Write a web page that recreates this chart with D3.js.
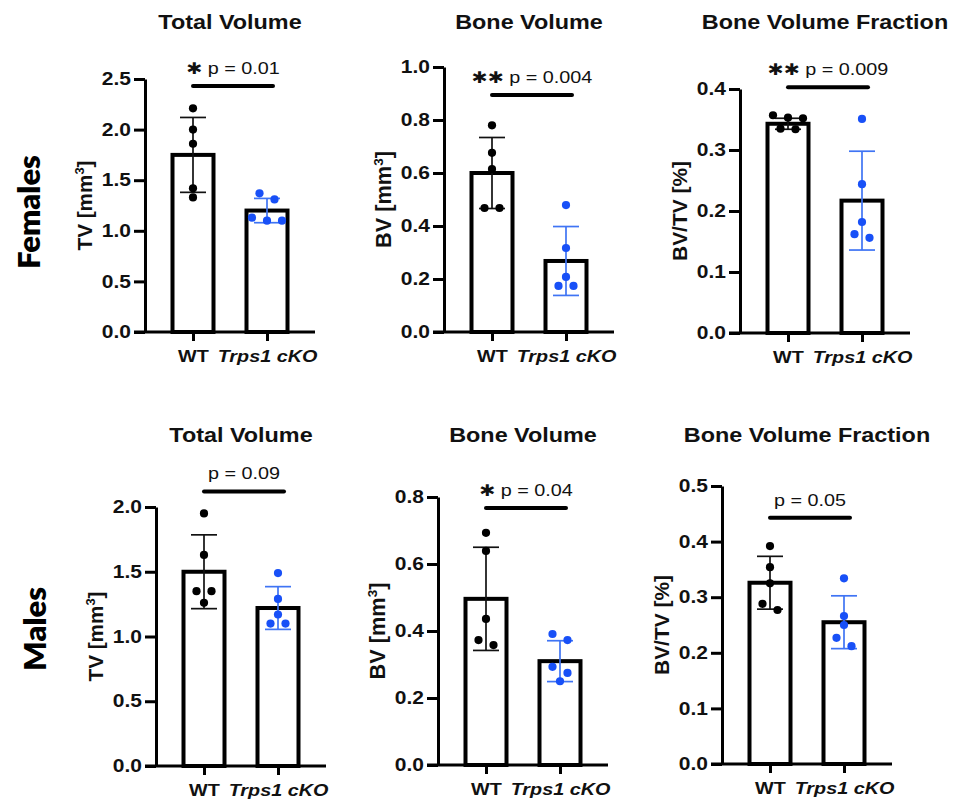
<!DOCTYPE html>
<html>
<head>
<meta charset="utf-8">
<script src="https://cdn.jsdelivr.net/npm/d3@7"></script>
<style>
  html, body { margin: 0; padding: 0; background: #fff; }
  svg { display: block; }
</style>
</head>
<body>
<div id="chart"></div>
<script>
// ---------- data ----------
const groups = ['WT', 'Trps1 cKO'];
const sexes = ['Females', 'Males'];
const titles = ['Total Volume', 'Bone Volume', 'Bone Volume Fraction'];
const yLabels = ['TV [mm³]', 'BV [mm³]', 'BV/TV [%]'];

// panels: females TV, BV, BV/TV, then males TV, BV, BV/TV
const yMax = [2.5, 1.0, 0.4, 2.0, 0.8, 0.5];
const tickStep = [0.5, 0.2, 0.1, 0.5, 0.2, 0.1];

const means = [
  [1.75, 1.20], [0.60, 0.268], [0.343, 0.217],
  [1.50, 1.22], [0.496, 0.31], [0.326, 0.255]
];
const sds = [
  [0.37, 0.12], [0.134, 0.13], [0.009, 0.081],
  [0.285, 0.165], [0.154, 0.061], [0.0475, 0.0475]
];
const points = [
  [[2.21, 2.00, 1.86, 1.42, 1.33], [1.37, 1.31, 1.13, 1.10, 1.10]],
  [[0.78, 0.676, 0.615, 0.468, 0.468], [0.479, 0.317, 0.208, 0.174, 0.174]],
  [[0.357, 0.353, 0.352, 0.335, 0.334], [0.351, 0.244, 0.182, 0.162, 0.156]],
  [[1.95, 1.63, 1.35, 1.35, 1.26], [1.49, 1.29, 1.17, 1.10, 1.10]],
  [[0.693, 0.639, 0.436, 0.373, 0.358], [0.391, 0.373, 0.293, 0.275, 0.25]],
  [[0.392, 0.354, 0.325, 0.288, 0.277], [0.334, 0.266, 0.25, 0.227, 0.212]]
];
const pValues = ['p = 0.01', 'p = 0.004', 'p = 0.009', 'p = 0.09', 'p = 0.04', 'p = 0.05'];
const stars = ['✱', '✱✱', '✱✱', '', '✱', ''];
const sigLevel = [2.43, 0.894, 0.403, 2.12, 0.767, 0.443];

// ---------- layout ----------
const W = 954, H = 806;
const SX = 1.2; // the figure's lettering is slightly wide
const axisLeft = [145, 444, 740, 156, 438, 722];
const axisTop = [79, 67, 89, 507, 497, 486];
const axisBottom = [332, 332, 333, 766, 765, 764];
const titleY = [29, 442];
const sexLabelX = [40, 46];
const sexLabelY = [212, 629];
const yLabelLen = [90, 97, 100]; // length of the rotated unit labels

const BLUE = '#1850f7';
const BLUE_ERR = '#3f74f4';
const barW = 41;
const FONT = '"Liberation Sans", Arial, Helvetica, sans-serif';

const svg = d3.select('#chart').append('svg')
  .attr('width', W).attr('height', H)
  .style('font-family', FONT);

svg.append('rect').attr('width', W).attr('height', H).attr('fill', '#fff');

// spread points that sit on (almost) the same level, the way prism does it
function dodge(vals, y, step, thresh) {
  const sorted = vals.map(v => ({ v, py: y(v) })).sort((a, b) => a.py - b.py);
  const rows = [];
  sorted.forEach(p => {
    const row = rows[rows.length - 1];
    if (row && p.py - row[0].py <= thresh) row.push(p);
    else rows.push([p]);
  });
  rows.forEach(row => row.forEach((p, k) => { p.dx = (k - (row.length - 1) / 2) * step; }));
  return sorted;
}

// row labels
sexes.forEach((s, r) => {
  svg.append('text')
    .attr('transform', `translate(${sexLabelX[r]},${sexLabelY[r]}) rotate(-90)`)
    .attr('text-anchor', 'middle')
    .style('font-family', 'Lato, "Open Sans", sans-serif')
    .style('font-weight', 800)
    .style('font-size', '31px')
    .text(s);
});

means.forEach((m, i) => {
  const ax = axisLeft[i], top = axisTop[i], bottom = axisBottom[i];
  const row = Math.floor(i / 3), col = i % 3;

  const y = d3.scaleLinear().domain([0, yMax[i]]).range([bottom, top]);
  const x = d3.scalePoint().domain(groups).range([ax + 48, ax + 122]);

  const g = svg.append('g');

  // title
  g.append('text')
    .attr('transform', `translate(${ax + 85},${titleY[row]}) scale(${SX},1)`)
    .attr('text-anchor', 'middle')
    .attr('fill', '#111')
    .style('font-weight', 700)
    .style('font-size', '19.5px')
    .text(titles[col]);

  // y label (superscript 3 as tspan), sized to the length seen in the figure
  let fs = 21;
  const yl = g.append('text')
    .attr('transform', `translate(${ax - 53},${(top + bottom) / 2}) rotate(-90)`)
    .attr('text-anchor', 'middle')
    .attr('fill', '#111')
    .style('font-weight', 700)
    .style('font-size', fs + 'px');
  const parts = yLabels[col].split('³');
  yl.append('tspan').text(parts[0]);
  let sup = null;
  if (parts.length > 1) {
    sup = yl.append('tspan').attr('dy', -8).style('font-size', (fs * 0.62) + 'px').text('3');
    yl.append('tspan').attr('dy', 8).text(parts[1]);
  }
  const len = yl.node().getComputedTextLength();
  if (len > 0) {
    fs = fs * yLabelLen[col] / len;
    yl.style('font-size', fs + 'px');
    if (sup) sup.style('font-size', (fs * 0.62) + 'px');
  }

  // bars
  g.selectAll('rect.bar')
    .data(groups)
    .join('rect')
    .attr('class', 'bar')
    .attr('x', d => x(d) - barW / 2)
    .attr('y', (d, j) => y(m[j]))
    .attr('width', barW)
    .attr('height', (d, j) => bottom - y(m[j]))
    .attr('fill', '#fff')
    .attr('stroke', '#000')
    .attr('stroke-width', 4);

  // y axis
  const yAxis = d3.axisLeft(y)
    .tickValues(d3.range(0, yMax[i] + tickStep[i] / 2, tickStep[i]))
    .tickFormat(d3.format('.1f'))
    .tickSize(11)
    .tickSizeOuter(0)
    .tickPadding(3);
  const yg = g.append('g').attr('transform', `translate(${ax},0)`).call(yAxis);
  yg.select('.domain').attr('stroke-width', 3);
  yg.selectAll('.tick line').attr('stroke-width', 3);
  yg.selectAll('.tick text')
    .attr('x', -14 / SX)
    .attr('transform', `scale(${SX},1)`)
    .attr('fill', '#111')
    .style('font-family', FONT)
    .style('font-weight', 700)
    .style('font-size', '17.5px');

  // x axis: baseline + ticks
  g.append('line')
    .attr('x1', ax - 11).attr('x2', ax + 170)
    .attr('y1', bottom).attr('y2', bottom)
    .attr('stroke', '#000').attr('stroke-width', 3);
  const xg = g.append('g').attr('transform', `translate(0,${bottom})`)
    .call(d3.axisBottom(x).tickSize(9).tickSizeOuter(0));
  xg.select('.domain').remove();
  xg.selectAll('.tick line').attr('stroke-width', 3);
  xg.selectAll('.tick text')
    .attr('y', 30).attr('dy', 0)
    .attr('transform', `scale(${SX},1)`)
    .attr('fill', '#111')
    .style('font-family', FONT)
    .style('font-weight', 700)
    .style('font-size', '16.5px')
    .style('font-style', d => d === groups[1] ? 'italic' : 'normal');

  // error bars
  groups.forEach((grp, j) => {
    const c = j === 0 ? '#111' : BLUE_ERR;
    const cx = x(grp);
    const y1 = y(m[j] + sds[i][j]), y0 = y(m[j] - sds[i][j]);
    const eb = g.append('g').attr('stroke', c).attr('stroke-width', 1.7);
    eb.append('line').attr('x1', cx).attr('x2', cx).attr('y1', y1).attr('y2', y0);
    [y1, y0].forEach(yy => {
      eb.append('line').attr('x1', cx - 13).attr('x2', cx + 13).attr('y1', yy).attr('y2', yy);
    });
  });

  // individual animals
  groups.forEach((grp, j) => {
    const pts = dodge(points[i][j], y, 15, 8.5);
    g.append('g').selectAll('circle')
      .data(pts)
      .join('circle')
      .attr('cx', d => x(grp) + d.dx)
      .attr('cy', d => d.py)
      .attr('r', 4.1)
      .attr('fill', j === 0 ? '#000' : BLUE);
  });

  // significance bar + label
  const sx0 = x(groups[0]), sx1 = x(groups[1]) + 6;
  const sy = y(sigLevel[i]);
  g.append('line')
    .attr('x1', sx0).attr('x2', sx1)
    .attr('y1', sy).attr('y2', sy)
    .attr('stroke', '#000')
    .attr('stroke-width', 4)
    .attr('stroke-linecap', 'round');
  const st = g.append('text')
    .attr('transform', `translate(${(sx0 + sx1) / 2},${sy - 12}) scale(${SX},1)`)
    .attr('text-anchor', 'middle')
    .style('font-size', '16.5px')
    .attr('fill', '#111');
  if (stars[i]) {
    st.append('tspan')
      .style('font-family', '"DejaVu Sans", sans-serif')
      .style('font-weight', 700)
      .style('font-size', '16px')
      .text(stars[i]);
    st.append('tspan').text(' ' + pValues[i]);
  } else {
    st.append('tspan').text(pValues[i]);
  }
});
</script>
</body>
</html>
